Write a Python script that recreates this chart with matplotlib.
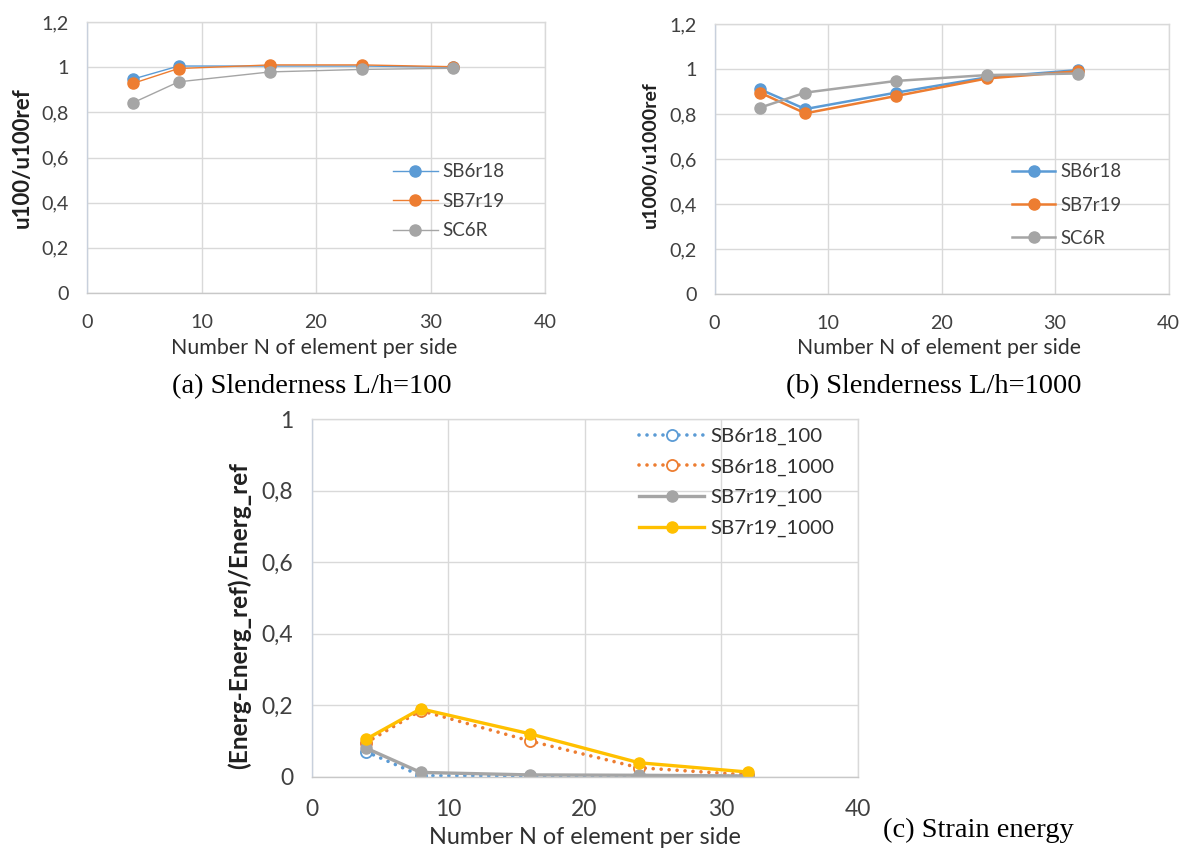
import matplotlib
matplotlib.use("Agg")
import matplotlib.pyplot as plt
from matplotlib.ticker import FuncFormatter

plt.rcParams['font.family'] = ['Lato', 'DejaVu Sans']

# Mesh density (elements per side)
n_elem = [4, 8, 16, 24, 32]

# (a) normalised displacement, L/h = 100
a_sb6r18 = [0.947, 1.005, 1.005, 1.005, 1.000]
a_sb7r19 = [0.928, 0.994, 1.010, 1.010, 1.002]
a_sc6r = [0.842, 0.935, 0.979, 0.990, 0.995]

# (b) normalised displacement, L/h = 1000
b_sb6r18 = [0.910, 0.822, 0.895, 0.963, 0.995]
b_sb7r19 = [0.895, 0.803, 0.880, 0.958, 0.990]
b_sc6r = [0.828, 0.895, 0.947, 0.973, 0.980]

# (c) relative strain-energy error
c_sb6r18_100 = [0.070, 0.003, 0.002, 0.001, 0.001]
c_sb6r18_1000 = [0.095, 0.185, 0.100, 0.025, 0.005]
c_sb7r19_100 = [0.080, 0.012, 0.005, 0.004, 0.002]
c_sb7r19_1000 = [0.105, 0.190, 0.120, 0.039, 0.013]

BLUE = '#5B9BD5'
ORANGE = '#ED7D31'
GRAY = '#A5A5A5'
YELLOW = '#FFC000'
GRID = '#D9D9D9'
TICK = '#404040'

comma = FuncFormatter(lambda v, p: ('%g' % round(v, 2)).replace('.', ','))

fig = plt.figure(figsize=(11.86, 8.48), dpi=100)
W, H = 1186, 848


def axes_px(left, top, right, bottom):
    return fig.add_axes([left / W, 1 - bottom / H, (right - left) / W, (bottom - top) / H])


def style(ax, ymax, ystep, ylabel, tick_fs, xlab_fs, ylab_fs, xlab_pos, ylab_pos,
          xpad, ypad):
    ax.set_xlim(0, 40)
    ax.set_ylim(0, ymax)
    ax.set_xticks(range(0, 41, 10))
    ax.set_yticks([round(i * ystep, 2) for i in range(int(round(ymax / ystep)) + 1)])
    ax.yaxis.set_major_formatter(comma)
    ax.grid(True, color=GRID, linewidth=1.0)
    ax.set_axisbelow(True)
    for s in ax.spines.values():
        s.set_color(GRID)
        s.set_linewidth(1.0)
    ax.spines['left'].set_color('#C8D0DC')
    ax.spines['bottom'].set_color('#C8C8C8')
    ax.tick_params(length=0, labelsize=tick_fs, colors=TICK)
    ax.tick_params(axis='x', pad=xpad)
    ax.tick_params(axis='y', pad=ypad)
    ax.set_xlabel('Number N of element per side', fontsize=xlab_fs, color='#303030',
                  va='center')
    ax.set_ylabel(ylabel, fontsize=ylab_fs, fontweight='bold', color='#202020',
                  va='center')
    ax.xaxis.set_label_coords(*xlab_pos)
    ax.yaxis.set_label_coords(*ylab_pos)


# ---- (a) ----
ax1 = axes_px(87, 22, 545, 293)
style(ax1, 1.2, 0.2, 'u100/u100ref', 14.2, 15.4, 16.0,
      (0.496, -0.203), (-0.142, 0.5), 15, 13)
ax1.plot(n_elem, a_sb6r18, '-o', color=BLUE, lw=1.0, ms=8, label='SB6r18')
ax1.plot(n_elem, a_sb7r19, '-o', color=ORANGE, lw=1.0, ms=8, label='SB7r19')
ax1.plot(n_elem, a_sc6r, '-o', color=GRAY, lw=1.0, ms=8, label='SC6R')
ax1.legend(loc='upper left', bbox_to_anchor=(0.668, 0.479), frameon=False,
           fontsize=13.5, handlelength=2.4, handletextpad=0.24, labelspacing=0.67,
           borderpad=0, borderaxespad=0, labelcolor=TICK)

# ---- (b) ----
ax2 = axes_px(714.5, 24, 1168.5, 294)
style(ax2, 1.2, 0.2, 'u1000/u1000ref', 14.2, 15.3, 14.0,
      (0.494, -0.2), (-0.142, 0.515), 15, 13)
ax2.plot(n_elem, b_sb6r18, '-o', color=BLUE, lw=1.8, ms=8, label='SB6r18')
ax2.plot(n_elem, b_sb7r19, '-o', color=ORANGE, lw=1.8, ms=8, label='SB7r19')
ax2.plot(n_elem, b_sc6r, '-o', color=GRAY, lw=1.8, ms=8, label='SC6R')
ax2.legend(loc='upper left', bbox_to_anchor=(0.655, 0.484), frameon=False,
           fontsize=13.4, handlelength=2.34, handletextpad=0.29, labelspacing=0.87,
           borderpad=0, borderaxespad=0, labelcolor=TICK)

# ---- (c) ----
ax3 = axes_px(311.5, 419.3, 857.5, 776.7)
style(ax3, 1.0, 0.2, '(Energ-Energ_ref)/Energ_ref', 16.5, 16.8, 17.6,
      (0.5, -0.1715), (-0.133, 0.45), 16, 13)
dots = (0, (0.01, 2.2))
ax3.plot(n_elem, c_sb6r18_100, linestyle=dots, marker='o', color=BLUE, mfc='white',
         lw=2.6, ms=8, mew=1.3, dash_capstyle='round', label='SB6r18_100')
ax3.plot(n_elem, c_sb6r18_1000, linestyle=dots, marker='o', color=ORANGE, mfc='white',
         lw=2.6, ms=8, mew=1.3, dash_capstyle='round', label='SB6r18_1000')
ax3.plot(n_elem, c_sb7r19_100, '-o', color=GRAY, lw=2.4, ms=8, label='SB7r19_100')
ax3.plot(n_elem, c_sb7r19_1000, '-o', color=YELLOW, lw=2.4, ms=8, label='SB7r19_1000')
ax3.legend(loc='upper left', bbox_to_anchor=(0.6, 0.977), frameon=False,
           fontsize=14.7, handlelength=3.19, handletextpad=0.3, labelspacing=0.64,
           borderpad=0, borderaxespad=0, labelcolor='#303030')

# Captions
cap = dict(family='Liberation Serif', fontsize=20.5, color='black')
fig.text(311.5 / W, 1 - 387 / H, '(a) Slenderness L/h=100', ha='center', va='center', **cap)
fig.text(934 / W, 1 - 387 / H, '(b) Slenderness L/h=1000', ha='center', va='center', **cap)
fig.text(883 / W, 1 - 830 / H, '(c) Strain energy', ha='left', va='center', **cap)

fig.savefig('out.png', dpi=100, facecolor='white')
